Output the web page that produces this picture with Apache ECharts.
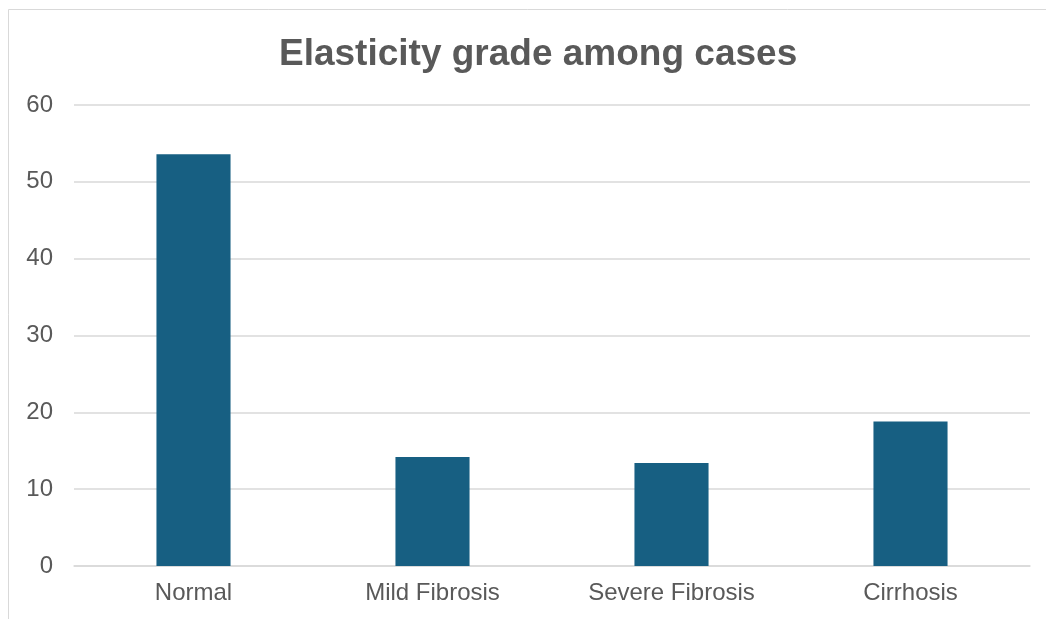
<!DOCTYPE html>
<html>
<head>
<meta charset="utf-8">
<script src="https://cdn.jsdelivr.net/npm/echarts@6/dist/echarts.min.js"></script>
<style>
  html, body { margin: 0; padding: 0; background: #fff; }
  #chart { width: 1046px; height: 619px; }
</style>
</head>
<body>
<div id="chart"></div>
<script>
  var categories = ['Normal', 'Mild Fibrosis', 'Severe Fibrosis', 'Cirrhosis'];
  var values = [53.6, 14.2, 13.4, 18.8];

  var textColor = '#595959';
  var font = '"Liberation Sans", Arial, sans-serif';

  var chart = echarts.init(document.getElementById('chart'));
  chart.setOption({
    animation: false,
    backgroundColor: '#fff',
    graphic: [{
      type: 'rect',
      shape: { x: 8.5, y: 9.5, width: 1100, height: 700 },
      style: { fill: 'none', stroke: '#d9d9d9', lineWidth: 1 },
      silent: true
    }],
    title: {
      text: 'Elasticity grade among cases',
      left: 274,
      top: 31,
      textStyle: { fontFamily: font, fontSize: 37, fontWeight: 'bold', color: textColor }
    },
    grid: { left: 74, right: 16, top: 105, bottom: 53 },
    xAxis: {
      type: 'category',
      data: categories,
      axisTick: { show: false },
      axisLine: { lineStyle: { color: '#d9d9d9', width: 1.5 } },
      axisLabel: { fontFamily: font, fontSize: 24, color: textColor, margin: 15 }
    },
    yAxis: {
      type: 'value',
      min: 0,
      max: 60,
      interval: 10,
      axisLine: { show: false },
      axisTick: { show: false },
      splitLine: { lineStyle: { color: '#d9d9d9', width: 1.5 } },
      axisLabel: { fontFamily: font, fontSize: 24, color: textColor, margin: 21 }
    },
    series: [{
      type: 'bar',
      data: values,
      barWidth: '31%',
      itemStyle: { color: '#175f82' }
    }]
  });
</script>
</body>
</html>
